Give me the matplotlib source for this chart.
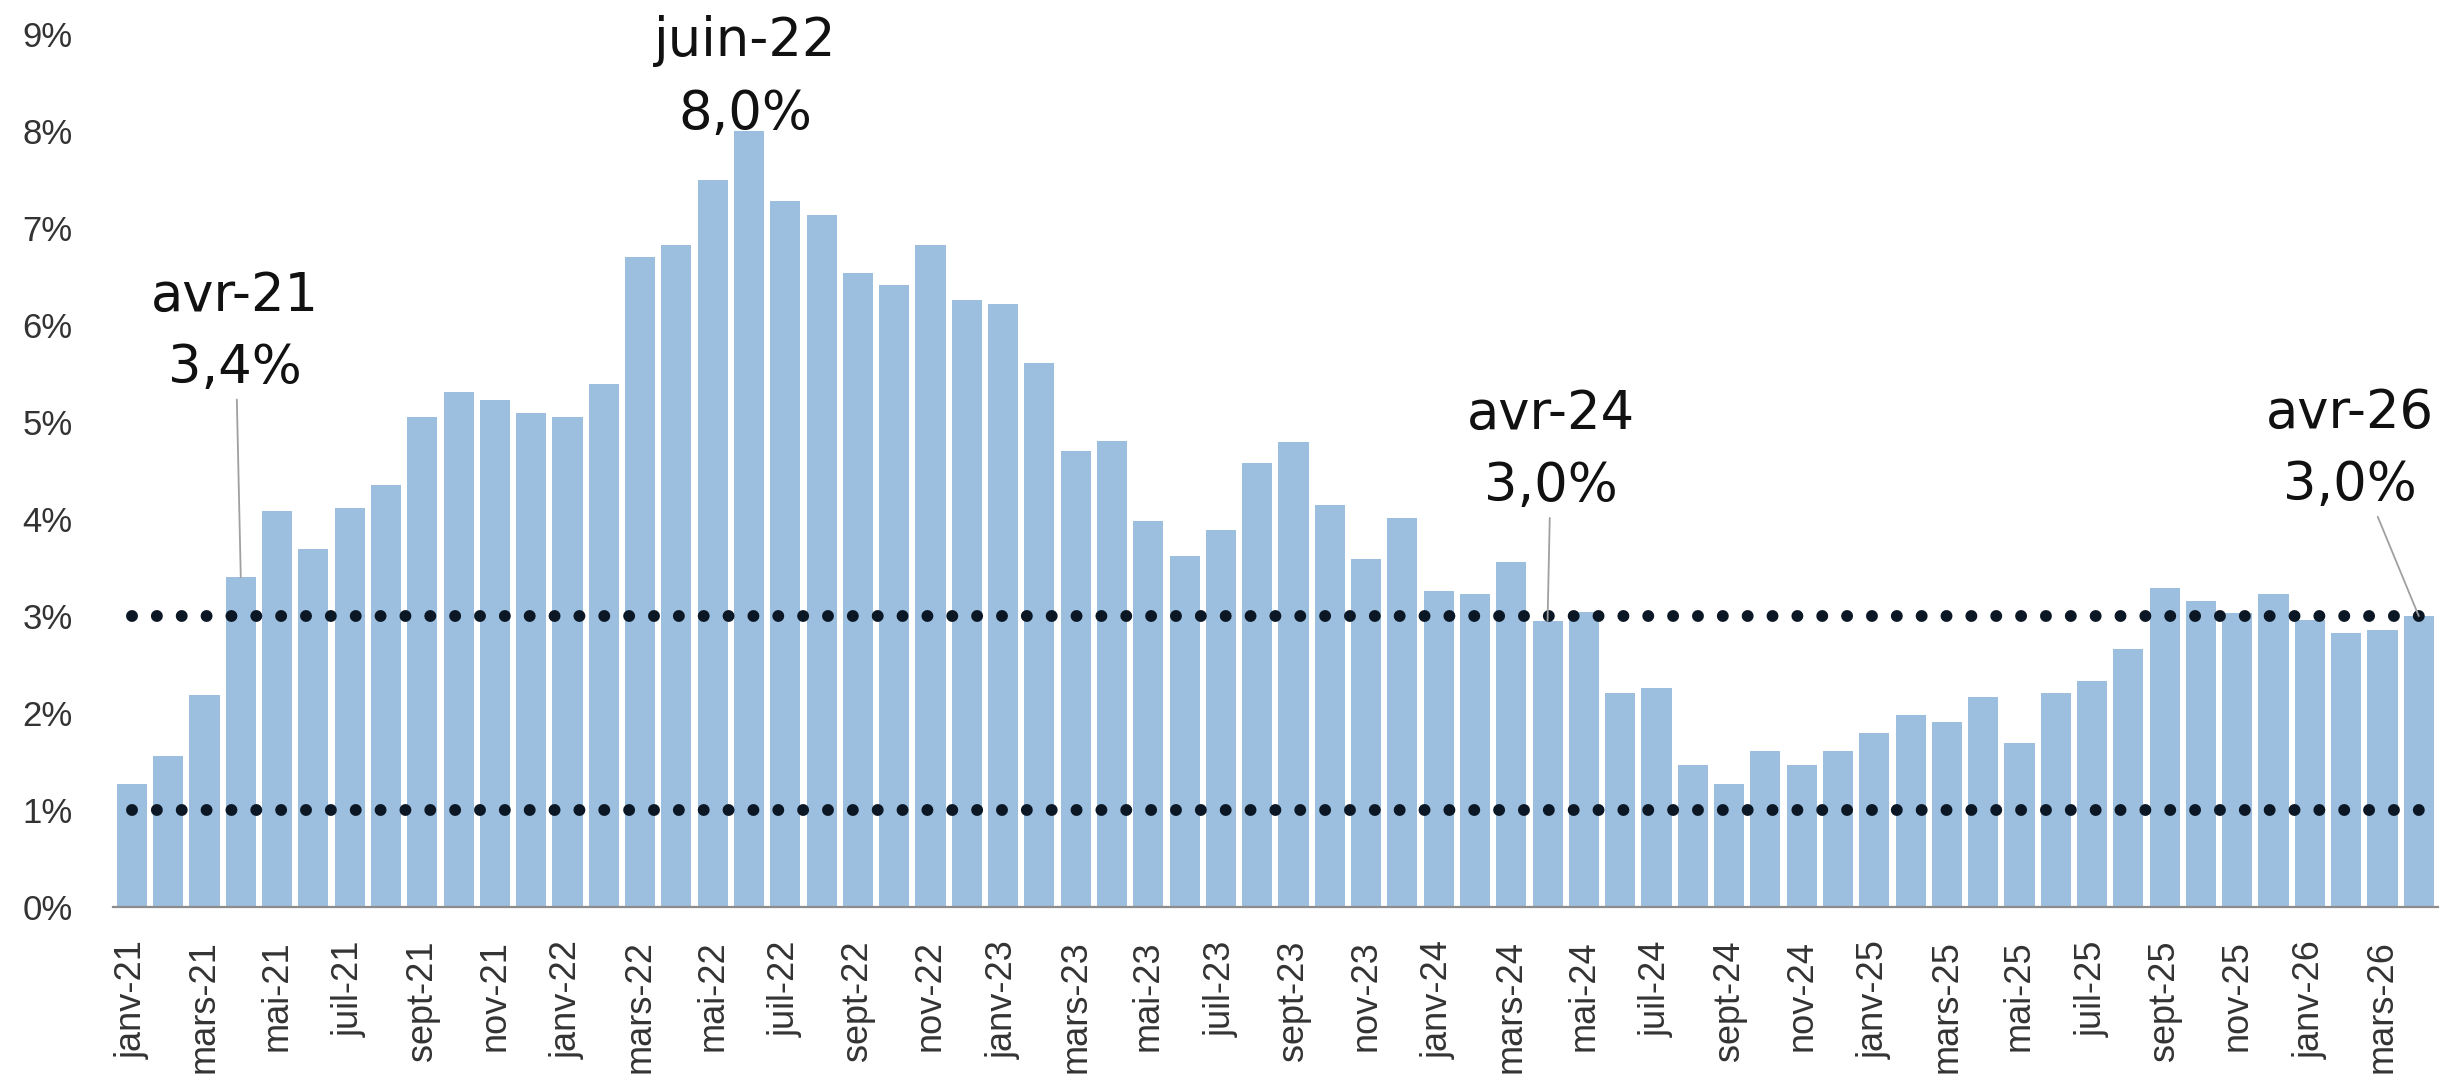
import matplotlib
matplotlib.use("Agg")
import matplotlib.pyplot as plt

# ------------------------------------------------------------
# Données : glissement annuel mensuel (%), janv-21 -> avr-26
# ------------------------------------------------------------
mois = ["janv", "févr", "mars", "avr", "mai", "juin",
        "juil", "août", "sept", "oct", "nov", "déc"]
annees = ["21", "22", "23", "24", "25", "26"]

valeurs_2021 = [1.27, 1.56, 2.19, 3.40, 4.08, 3.69, 4.11, 4.35, 5.05, 5.31, 5.23, 5.09]
valeurs_2022 = [5.05, 5.39, 6.70, 6.82, 7.49, 8.00, 7.28, 7.13, 6.54, 6.41, 6.82, 6.26]
valeurs_2023 = [6.22, 5.61, 4.70, 4.80, 3.98, 3.62, 3.89, 4.58, 4.79, 4.14, 3.59, 4.01]
valeurs_2024 = [3.26, 3.23, 3.56, 2.95, 3.04, 2.21, 2.26, 1.46, 1.27, 1.61, 1.46, 1.61]
valeurs_2025 = [1.79, 1.98, 1.91, 2.16, 1.69, 2.21, 2.33, 2.66, 3.29, 3.15, 3.03, 3.23]
valeurs_2026 = [2.96, 2.82, 2.86, 3.00]

valeurs = valeurs_2021 + valeurs_2022 + valeurs_2023 + valeurs_2024 + valeurs_2025 + valeurs_2026
etiquettes = [f"{m}-{a}" for a in annees for m in mois][:len(valeurs)]

cibles = [1.0, 3.0]  # lignes pointillées

# annotations : (index du mois, texte, position du texte x, y, flèche ?)
annotations = [
    (3, "avr-21\n3,4%", 2.85, 5.93, True),
    (17, "juin-22\n8,0%", 16.9, 8.55, False),
    (39, "avr-24\n3,0%", 39.1, 4.71, True),
    (63, "avr-26\n3,0%", 61.1, 4.72, True),
]

# ------------------------------------------------------------
# Graphique
# ------------------------------------------------------------
fig = plt.figure(figsize=(24.43, 10.86), dpi=100)
ax = fig.add_axes([113 / 2443, 1 - 907 / 1086, (2438 - 113) / 2443, (907 - 34) / 1086])

x = list(range(len(valeurs)))
ax.bar(x, valeurs, width=0.83, color="#9dbfdf", zorder=1)

ax.hlines(cibles, 0, len(valeurs) - 1, colors="#0b1724", linewidth=8.6,
          linestyles=[(0, (0.001, 2.08))], capstyle="round", zorder=3)

ax.set_xlim(-0.52, len(valeurs) - 0.47)
ax.set_ylim(0, 9)
ax.set_yticks(range(0, 10))
ax.set_yticklabels([f"{i}%" for i in range(0, 10)],
                   fontsize=25, color="#333333", family="Liberation Sans")
ax.set_xticks(x[::2])
ax.set_xticklabels(etiquettes[::2], rotation=90, fontsize=26,
                   color="#333333", family="Liberation Sans")
ax.tick_params(axis="y", length=0, pad=29)
ax.tick_params(axis="x", length=0, pad=24)

for s in ["top", "right", "left"]:
    ax.spines[s].set_visible(False)
ax.spines["bottom"].set_color("#8c8c8c")
ax.spines["bottom"].set_linewidth(1.6)

for i, texte, tx, ty, fleche in annotations:
    props = None
    if fleche:
        props = dict(arrowstyle="-", color="#a0a0a0", linewidth=1.3,
                     shrinkA=2, shrinkB=0)
    ax.annotate(texte, xy=(i, valeurs[i]), xytext=(tx, ty),
                ha="center", va="center", fontsize=38, color="#111111",
                linespacing=1.5, arrowprops=props, annotation_clip=False,
                zorder=4)

fig.savefig("out.png", dpi=100)
